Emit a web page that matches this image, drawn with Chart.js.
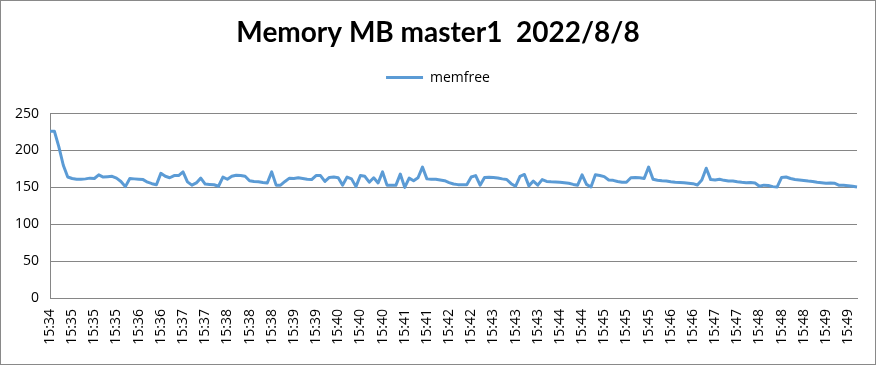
<!DOCTYPE html>
<html><head><meta charset="utf-8">
<script src="https://cdn.jsdelivr.net/npm/chart.js@4.4.0/dist/chart.umd.min.js"></script>
<style>html,body{margin:0;padding:0;background:#fff}canvas{display:block}</style>
</head><body>
<canvas id="c" width="876" height="365"></canvas>
<script>
const chartTitle = 'Memory MB master1  2022/8/8';
const seriesName = 'memfree';

// one category per 5-second sample (shown as h:mm)
const categories = [
'15:34','15:34','15:34','15:34',
'15:35','15:35','15:35','15:35','15:35','15:35','15:35','15:35','15:35','15:35','15:35','15:35',
'15:36','15:36','15:36','15:36','15:36','15:36','15:36','15:36','15:36','15:36','15:36','15:36',
'15:37','15:37','15:37','15:37','15:37','15:37','15:37','15:37','15:37','15:37','15:37','15:37',
'15:38','15:38','15:38','15:38','15:38','15:38','15:38','15:38','15:38','15:38','15:38','15:38',
'15:39','15:39','15:39','15:39','15:39','15:39','15:39','15:39','15:39','15:39','15:39','15:39',
'15:40','15:40','15:40','15:40','15:40','15:40','15:40','15:40','15:40','15:40','15:40','15:40',
'15:41','15:41','15:41','15:41','15:41','15:41','15:41','15:41','15:41','15:41','15:41','15:41',
'15:42','15:42','15:42','15:42','15:42','15:42','15:42','15:42','15:42','15:42','15:42','15:42',
'15:43','15:43','15:43','15:43','15:43','15:43','15:43','15:43','15:43','15:43','15:43','15:43',
'15:44','15:44','15:44','15:44','15:44','15:44','15:44','15:44','15:44','15:44','15:44','15:44',
'15:45','15:45','15:45','15:45','15:45','15:45','15:45','15:45','15:45','15:45','15:45','15:45',
'15:46','15:46','15:46','15:46','15:46','15:46','15:46','15:46','15:46','15:46','15:46','15:46',
'15:47','15:47','15:47','15:47','15:47','15:47','15:47','15:47','15:47','15:47','15:47','15:47',
'15:48','15:48','15:48','15:48','15:48','15:48','15:48','15:48','15:48','15:48','15:48','15:48',
'15:49','15:49','15:49','15:49','15:49','15:49','15:49','15:49','15:49','15:49','15:49'
];

const memfree = [
226,226,205,180,164,162,161,161,161.5,162.5,
162,167,164,164.5,165,162.5,158,151,162,161.5,
161,160.5,157,155,153.5,169,165,163,166,166,
171,157.5,153,156,162.5,154.5,154,153.5,151.5,164,
161,165,166.5,166,165,159,158,157.5,156.5,156,
171,153,153,158,162.5,162,163,162,161,160.5,
166,166,158,163.5,164,163,153,164,161.5,151,
166,165,157,163,156,171,153,152.7,152.7,168,
150,162.5,159,163,177.5,161.5,161,161,160,159,
156.5,154.5,153.7,153.6,153.6,164,166,153,163.5,163.8,
163.5,162.8,161.5,160.7,155,151.5,165,167.5,152,158.5,
153,160.5,158,157.5,157.3,157,156.3,155.5,154,153,
167,154,150.5,167,166,164.5,160,159.5,158,157,
157,163,163.5,163,162,177.5,161,159.7,159,158.5,
157.5,156.8,156.5,156.3,155.6,155,153.2,160,176,160.5,
160,161,159.5,158.5,158.5,157.5,156.8,156.3,156.7,156,
151.5,153,152.5,151,150.5,163.5,164,162,160.7,160,
159.2,158.5,158,157,156.3,155.5,156,155.5,152.7,152.7,
152.3,151.5,150.5
];

// labels printed under the axis (every 5th sample)
const tickLabels = [
'15:34','15:35','15:35','15:35','15:36','15:36','15:37','15:37','15:38','15:38',
'15:38','15:39','15:39','15:40','15:40','15:40','15:41','15:41','15:42','15:42',
'15:43','15:43','15:43','15:44','15:44','15:45','15:45','15:45','15:46','15:46',
'15:47','15:47','15:48','15:48','15:48','15:49','15:49'
];
const labelEvery = 5;
const yMin = 0, yMax = 250, yStep = 50;

const LINE = '#5B9BD5';
const GRID = '#868686';
const TXT = '#000000';
const FONT = "'Open Sans', sans-serif";

Chart.defaults.color = TXT;

const chromePlugin = {
  id: 'chrome',
  afterInit(chart) {
    const lg = chart.legend;
    if (lg && !lg._padded) {
      const fit = lg.fit;
      lg.fit = function () { fit.call(this); this.height += 19; };
      lg._padded = true;
    }
  },
  afterDraw(chart) {
    const ctx = chart.ctx;
    ctx.save();
    ctx.strokeStyle = '#898989';
    ctx.lineWidth = 1;
    ctx.strokeRect(0.5, 0.5, chart.width - 1, chart.height - 1);
    ctx.restore();
  }
};

new Chart(document.getElementById('c'), {
  type: 'line',
  data: {
    labels: categories,
    datasets: [{
      label: seriesName,
      data: memfree,
      borderColor: LINE,
      backgroundColor: LINE,
      borderWidth: 3,
      pointRadius: 0,
      pointHoverRadius: 0,
      tension: 0,
      fill: false,
      borderJoinStyle: 'round',
      borderCapStyle: 'butt'
    }]
  },
  options: {
    responsive: false,
    animation: false,
    layout: { padding: 0 },
    plugins: {
      title: {
        display: true,
        text: chartTitle,
        color: TXT,
        font: { family: 'Lato', weight: 'bold', size: 28 },
        padding: { top: 16, bottom: 11 }
      },
      legend: {
        display: true,
        position: 'top',
        labels: {
          font: { family: FONT, size: 14 },
          color: TXT,
          boxWidth: 37,
          boxHeight: 3,
          padding: 10,
          generateLabels(chart) {
            return chart.data.datasets.map((ds, i) => ({
              text: ds.label,
              fillStyle: ds.borderColor,
              strokeStyle: ds.borderColor,
              lineWidth: 0,
              hidden: false,
              datasetIndex: i,
              fontColor: TXT
            }));
          }
        }
      },
      tooltip: { enabled: false }
    },
    scales: {
      x: {
        type: 'category',
        offset: false,
        grid: { display: false, drawTicks: false },
        border: { display: true, color: GRID, width: 1 },
        ticks: {
          autoSkip: false,
          minRotation: 90,
          maxRotation: 90,
          padding: 11,
          font: { family: FONT, size: 14 },
          color: TXT,
          callback: (v, i) => (i % labelEvery === 0 ? tickLabels[i / labelEvery] : '')
        },
        afterFit(scale) {
          scale.height = 67;
          scale.paddingLeft = 0;
          scale.paddingRight = 0;
        }
      },
      y: {
        min: yMin,
        max: yMax,
        grid: { color: GRID, lineWidth: 1, drawTicks: false },
        border: { display: true, color: GRID, width: 1 },
        ticks: {
          stepSize: yStep,
          padding: 11,
          font: { family: FONT, size: 14 },
          color: TXT
        },
        afterFit(scale) { scale.width = 50; }
      },
      yRightMargin: {
        type: 'linear',
        position: 'right',
        min: yMin,
        max: yMax,
        grid: { display: false, drawTicks: false },
        border: { display: false },
        ticks: { display: false },
        afterFit(scale) { scale.width = 19; }
      }
    }
  },
  plugins: [chromePlugin]
});
</script>
</body></html>
